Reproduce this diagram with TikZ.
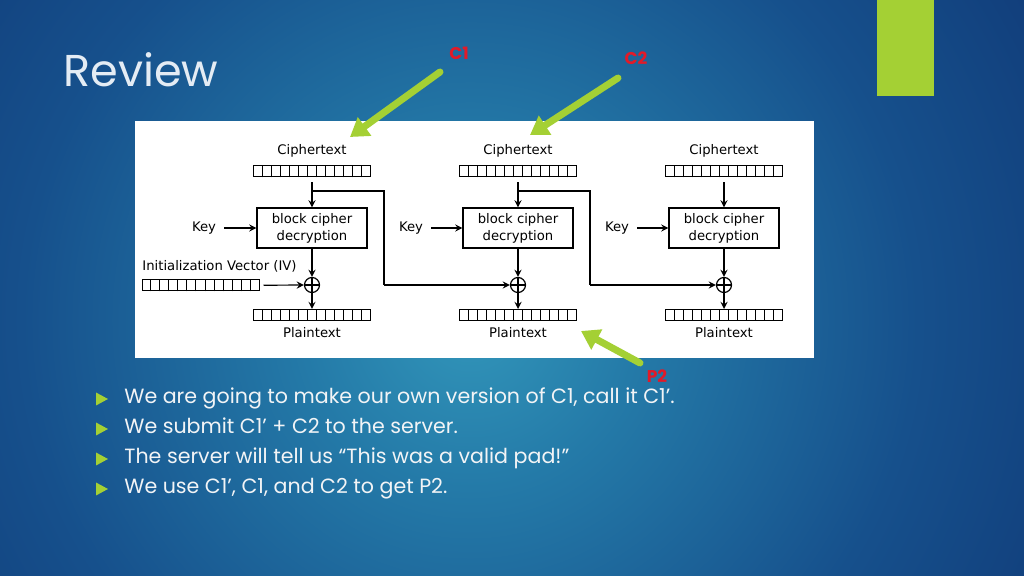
\documentclass[tikz,border=0pt]{standalone}
\usepackage{fontspec}
\setmainfont{Poppins}
\newfontfamily\diagfont{DejaVu Sans}
\usetikzlibrary{shapes,arrows,arrows.meta,positioning,calc}
\definecolor{bgin}{RGB}{50,150,186}
\definecolor{bgmid}{RGB}{36,122,168}
\definecolor{bgdark}{RGB}{22,80,140}
\definecolor{bgdeep}{RGB}{14,50,112}
\definecolor{bgout}{RGB}{10,36,100}
\definecolor{lime}{RGB}{164,208,52}
\definecolor{tagred}{RGB}{226,26,40}
\definecolor{slidetext}{RGB}{242,244,246}
\definecolor{titletext}{RGB}{228,236,244}
\pgfdeclareradialshading{slidebg}{\pgfpoint{0bp}{0bp}}{color(0bp)=(bgin); color(6bp)=(bgmid); color(16bp)=(bgdark); color(28bp)=(bgdeep); color(40bp)=(bgout); color(50bp)=(bgout)}

\begin{document}
\begin{tikzpicture}[
    x=0.5pt, y=-0.5pt,
    box/.style={rectangle, draw, line width=0.6pt, minimum width=55pt,
                minimum height=20pt, align=center, inner sep=1pt,
                font=\diagfont\fontsize{6.6}{8.5}\selectfont},
    reg/.style={rectangle, draw, line width=0.5pt, minimum width=58.5pt,
                minimum height=5.5pt, inner sep=0pt},
    xor/.style={circle, draw, line width=0.6pt, minimum size=7.5pt, inner sep=0pt},
    txt/.style={font=\diagfont\fontsize{6.6}{8}\selectfont, inner sep=1pt},
    arrow/.style={->, line width=0.6pt, >=stealth},
    wire/.style={line width=0.6pt},
    greenarrow/.style={-{Triangle[length=9pt,width=11pt]}, line width=3.5pt,
                       line cap=round, draw=lime},
    tag/.style={font=\bfseries\fontsize{8.5}{10}\selectfont, text=tagred},
    bulletline/.style={font=\fontsize{10.3}{12}\selectfont, text=slidetext,
                       anchor=base west, inner sep=0pt},
]
\useasboundingbox (0,0) rectangle (1024,576);

% Background
\begin{scope}
  \clip (0,0) rectangle (1024,576);
  \shade[shading=slidebg] (-230,-380) rectangle (1170,1020);
\end{scope}
\fill[lime] (877,0) rectangle (934,96);

% Title
\node[anchor=base west, font=\fontsize{22.3}{26}\selectfont, text=titletext, inner sep=0pt]
    (title) at (63,87) {Review};

% Diagram panel
\fill[white] (135,121) rectangle (814,358);

% Ciphertext blocks
\node[txt] (c1lab) at (312,151) {Ciphertext};
\node[txt] (c2lab) at (518,151) {Ciphertext};
\node[txt] (c3lab) at (724,151) {Ciphertext};
\node[reg] (c1reg) at (312,171.5) {};
\node[reg] (c2reg) at (518,171.5) {};
\node[reg] (c3reg) at (724,171.5) {};

% Decryption boxes
\node[box] (dec1) at (312,228) {block cipher\\decryption};
\node[box] (dec2) at (518,228) {block cipher\\decryption};
\node[box] (dec3) at (724,228) {block cipher\\decryption};
\node[txt] (key1) at (204,228) {Key};
\node[txt] (key2) at (411,228) {Key};
\node[txt] (key3) at (617,228) {Key};

% IV
\node[txt, anchor=west] (ivlab) at (140,266) {Initialization Vector (IV)};
\node[reg] (ivreg) at (200.5,285.5) {};

% XOR
\node[xor] (x1) at (312,285) {};
\node[xor] (x2) at (518,285) {};
\node[xor] (x3) at (724,285) {};
\foreach \x in {x1,x2,x3} {
  \draw[wire] (\x.north) -- (\x.south);
  \draw[wire] (\x.west) -- (\x.east);
}

% Plaintext blocks
\node[reg] (p1reg) at (312,315) {};
\node[reg] (p2reg) at (518,315) {};
\node[reg] (p3reg) at (724,315) {};
\node[txt] (p1lab) at (312,333) {Plaintext};
\node[txt] (p2lab) at (518,333) {Plaintext};
\node[txt] (p3lab) at (724,333) {Plaintext};

% Register cells
\foreach \r in {c1reg,c2reg,c3reg,ivreg,p1reg,p2reg,p3reg}
  \foreach \i in {1,...,12}
    \draw[line width=0.5pt] ($(\r.south west)!\i/13!(\r.south east)$)
        -- ($(\r.north west)!\i/13!(\r.north east)$);

% Arrows
\foreach \n in {1,2,3} {
  \draw[arrow, shorten <=2.5pt] (c\n reg) -- (dec\n);
  \draw[arrow, shorten <=3pt] (key\n) -- (dec\n);
  \draw[arrow] (dec\n) -- (x\n);
  \draw[arrow] (x\n) -- (p\n reg);
}
\draw[arrow, shorten <=2pt] (ivreg) -- (x1);

\coordinate (b1) at (312,191);
\coordinate (t1) at (384,191);
\coordinate (u1) at (384,285);
\coordinate (b2) at (518,191);
\coordinate (t2) at (590,191);
\coordinate (u2) at (590,285);
\draw[wire] (b1) -- (t1) -- (u1);
\draw[arrow] (u1) -- (x2);
\draw[wire] (b2) -- (t2) -- (u2);
\draw[arrow] (u2) -- (x3);

% Callouts
\node[tag] (c1tag) at (459,53) {C1};
\node[tag] (c2tag) at (636,58) {C2};
\node[tag] (p2tag) at (657,376) {P2};
\coordinate (c1from) at (440,72);
\coordinate (c1to) at (350,137);
\coordinate (c2from) at (618,78);
\coordinate (c2to) at (530,135);
\coordinate (p2from) at (640,363);
\coordinate (p2to) at (581,331);
\draw[greenarrow] (c1from) -- (c1to);
\draw[greenarrow] (c2from) -- (c2to);
\draw[greenarrow] (p2from) -- (p2to);

% Bullets
\foreach \y/\t in {404/{We are going to make our own version of C1, call it C1’.},
                   434/{We submit C1' + C2 to the server.},
                   464/{The server will tell us “This was a valid pad!”},
                   494/{We use C1’, C1, and C2 to get P2.}} {
  \fill[lime] (96,{\y-11.5}) -- (108,{\y-5}) -- (96,{\y+1.5}) -- cycle;
  \node[bulletline] at (124,\y) {\t};
}

\end{tikzpicture}
\end{document}
